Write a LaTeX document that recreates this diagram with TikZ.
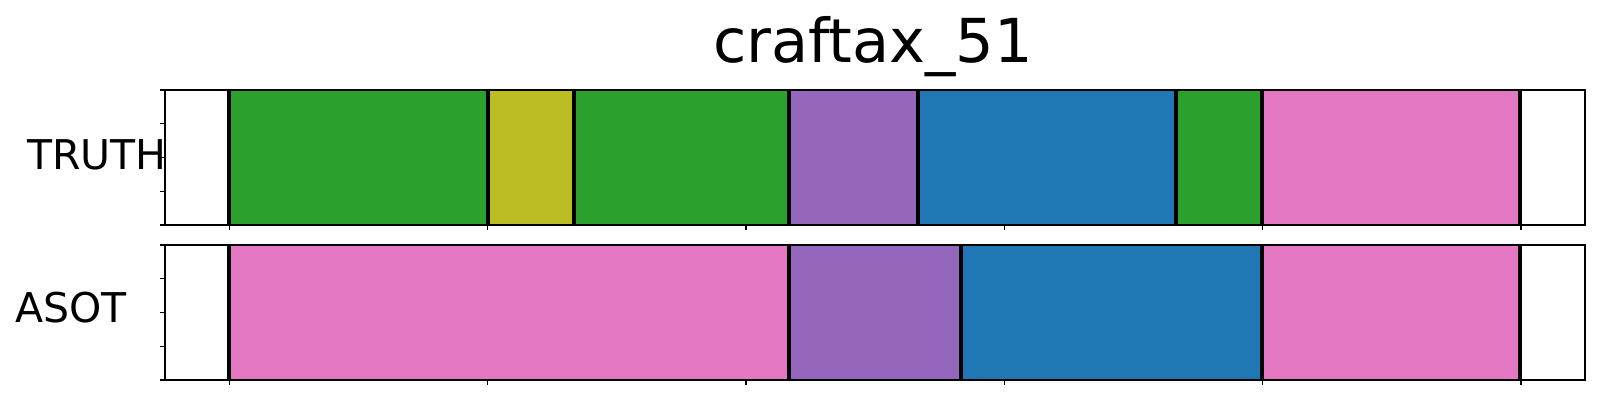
\documentclass[tikz,border=0pt]{standalone}
\usepackage{fontspec}
\setmainfont{DejaVu Sans}
\definecolor{tgreen}{HTML}{2CA02C}
\definecolor{tolive}{HTML}{BCBD22}
\definecolor{tpurple}{HTML}{9467BD}
\definecolor{tblue}{HTML}{1F77B4}
\definecolor{tpink}{HTML}{E377C2}
\tikzset{
  seg/.style={draw=black!60, line width=0.3pt},
  bound/.style={draw=black, line width=2.1pt},
  spine/.style={draw=black, line width=0.9pt},
  tick/.style={draw=black, line width=0.7pt},
  lab/.style={inner sep=0pt, font=\fontsize{20.5}{24}\selectfont},
}
\begin{document}
\begin{tikzpicture}[x=0.5pt,y=-0.5pt]
\useasboundingbox (0,0) rectangle (1600,400);
\fill[white] (0,0) rectangle (1600,400);
% title
\node[inner sep=0pt, anchor=base, font=\fontsize{30.3}{36}\selectfont] (title) at (873,63) {craftax\_51};
% TRUTH panel segments
\foreach \a/\b/\c in {229/488/tgreen, 488/574/tolive, 574/789/tgreen, 789/918/tpurple, 918/1176/tblue, 1176/1262/tgreen, 1262/1520/tpink}
  \filldraw[seg, fill=\c] (\a,90) rectangle (\b,225);
\foreach \x in {229,488,574,789,918,1176,1262,1520}
  \draw[bound] (\x,90) -- (\x,225);
% ASOT panel segments
\foreach \a/\b/\c in {229/789/tpink, 789/961/tpurple, 961/1262/tblue, 1262/1520/tpink}
  \filldraw[seg, fill=\c] (\a,245) rectangle (\b,380);
\foreach \x in {229,789,961,1262,1520}
  \draw[bound] (\x,245) -- (\x,380);
% spines
\draw[spine] (165,90) rectangle (1585,225);
\draw[spine] (165,245) rectangle (1585,380);
% ticks
\foreach \x in {229.3,487.6,745.9,1004.2,1262.5,1520.8} {
  \draw[tick] (\x,225) -- (\x,230);
  \draw[tick] (\x,380) -- (\x,385);
}
\foreach \y in {90,123.75,157.5,191.25,225}
  \draw[tick] (165,\y) -- (160,\y);
\foreach \y in {245,278.75,312.5,346.25,380}
  \draw[tick] (165,\y) -- (160,\y);
% labels
\node[lab, anchor=base east] (truth) at (167,170) {TRUTH};
\node[lab, anchor=base west] (asot) at (15,323) {ASOT};
\end{tikzpicture}
\end{document}
